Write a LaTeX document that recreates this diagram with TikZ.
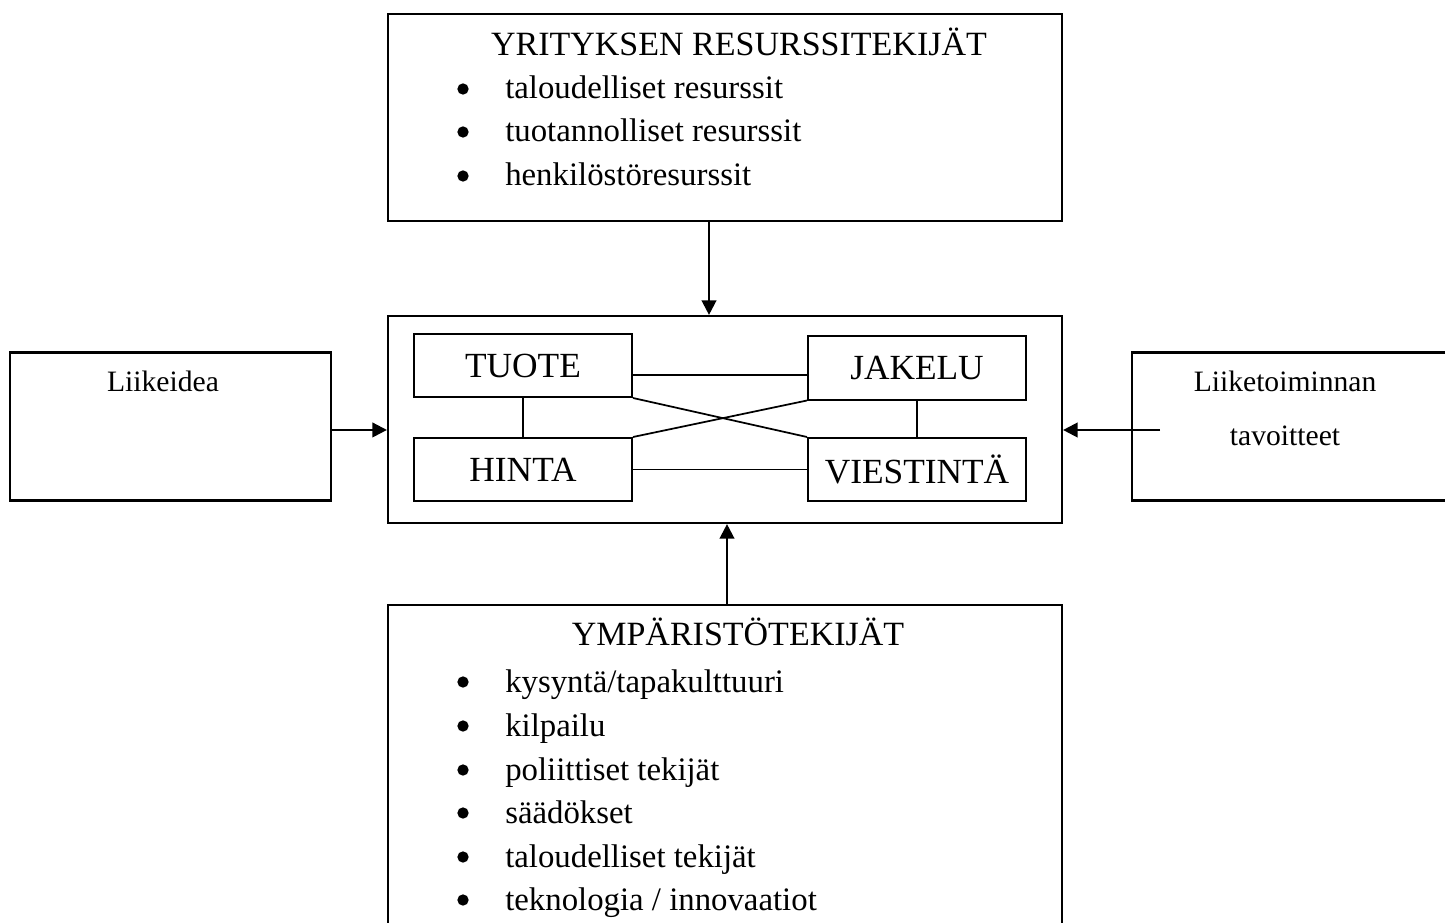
\documentclass[tikz,border=0pt]{standalone}
\usepackage{fontspec}
\setmainfont{Liberation Serif}
\usetikzlibrary{arrows.meta,calc}
\begin{document}
\begin{tikzpicture}[x=0.75pt,y=-0.75pt,
  box/.style={draw,line width=1.6pt,inner sep=0pt},
  inbox/.style={draw,line width=1.5pt,inner sep=0pt,minimum width=163.5pt,minimum height=47.25pt,font=\fontsize{26.5}{31}\selectfont},
  link/.style={line width=1.3pt},
  arr/.style={line width=1.7pt,-{Triangle[length=11pt,width=11pt]}},
  txt/.style={anchor=base west,inner sep=0pt,font=\fontsize{24.6}{29}\selectfont},
  ttl/.style={anchor=base,inner sep=0pt,font=\fontsize{25.5}{30}\selectfont},
  side/.style={anchor=base,inner sep=0pt,font=\fontsize{22.2}{27}\selectfont},
  bul/.style={circle,fill,inner sep=0pt,minimum size=8.5pt}
]
\useasboundingbox (0,0) rectangle (1445,923);

% main boxes
\node[box,minimum width=505.5pt,minimum height=155.25pt] (top) at (725,117.5) {};
\node[box,minimum width=505.5pt,minimum height=155.25pt] (mid) at (725,419.5) {};
\node[box,minimum width=505.5pt,minimum height=255pt] (bot) at (725,775) {};
\node[box,minimum width=240.75pt,minimum height=111pt] (left) at (170.5,426.5) {};
\node[box,minimum width=253.5pt,minimum height=111pt] (right) at (1301,426.5) {};

% top box text
\node[ttl] (toptitle) at (739,56) {YRITYKSEN RESURSSITEKIJÄT};
\node[bul] (tb1) at (463,89) {};
\node[bul] (tb2) at (463,132) {};
\node[bul] (tb3) at (463,176) {};
\node[txt] (tt1) at (505,99) {taloudelliset resurssit};
\node[txt] (tt2) at (505,142) {tuotannolliset resurssit};
\node[txt] (tt3) at (505,186) {henkilöstöresurssit};

% bottom box text
\node[ttl] (bottitle) at (738,645) {YMPÄRISTÖTEKIJÄT};
\node[bul] (bb1) at (463,682) {};
\node[bul] (bb2) at (463,726) {};
\node[bul] (bb3) at (463,770) {};
\node[bul] (bb4) at (463,813) {};
\node[bul] (bb5) at (463,857) {};
\node[bul] (bb6) at (463,900) {};
\node[txt] (bt1) at (505,692) {kysyntä/tapakulttuuri};
\node[txt] (bt2) at (505,736) {kilpailu};
\node[txt] (bt3) at (505,780) {poliittiset tekijät};
\node[txt] (bt4) at (505,823) {säädökset};
\node[txt] (bt5) at (505,867) {taloudelliset tekijät};
\node[txt] (bt6) at (505,910) {teknologia / innovaatiot};

% side texts
\node[side] (lt) at (163,392) {Liikeidea};
\node[side] (rt1) at (1285,392) {Liiketoiminnan};
\node[side] (rt2) at (1285,445) {tavoitteet};

% inner boxes
\node[inbox] (tuote) at (523,365.5) {TUOTE};
\node[inbox] (jakelu) at (917,368) {JAKELU};
\node[inbox] (hinta) at (523,469.5) {HINTA};
\node[inbox] (viestinta) at (917,469.5) {VIESTINTÄ};

% inner links
\draw[link] ([yshift=-7.1pt]tuote.east) -- ([yshift=-5.25pt]jakelu.west);
\draw[link] (tuote.south) -- (hinta.north);
\draw[link] (jakelu.south) -- (viestinta.north);
\draw[link] (tuote.south east) -- (viestinta.north west);
\draw[link] (hinta.north east) -- (jakelu.south west);
\draw[link] (hinta.east) -- (viestinta.west);

% arrows
\draw[arr] ([xshift=-12pt]top.south) -- ([xshift=-12pt]mid.north);
\draw[arr] ([xshift=1.5pt]bot.north) -- ([xshift=1.5pt]mid.south);
\draw[arr] ([yshift=-2.6pt]left.east) -- ([yshift=-2.6pt]left.east -| mid.west);
\coordinate (rstart) at (1160,430);
\draw[arr] (rstart) -- (rstart -| mid.east);
\end{tikzpicture}
\end{document}
